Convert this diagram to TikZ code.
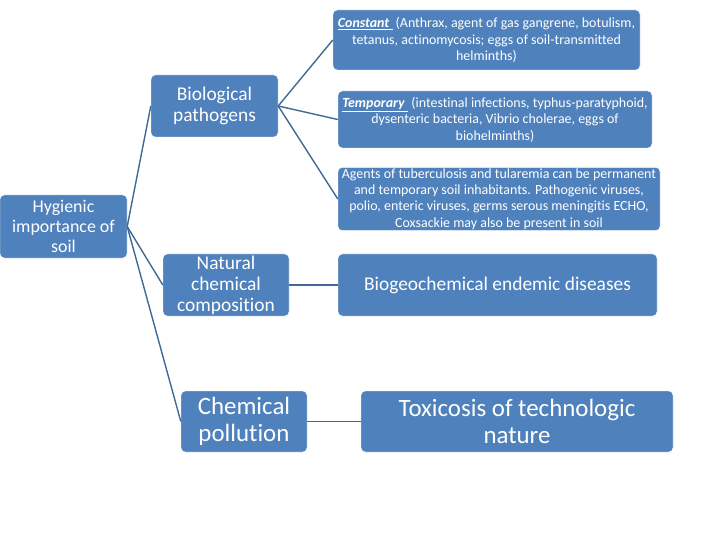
\documentclass[tikz,border=0pt]{standalone}
\usepackage{fontspec}
\setmainfont{Carlito}[Ligatures={NoCommon}]
\usepackage{tikz}
\definecolor{boxblue}{HTML}{4F81BD}
\definecolor{lineblue}{HTML}{3F6A98}

\begin{document}
\begin{tikzpicture}[x=1bp,y=-1bp,box/.style={fill=boxblue,draw=white,thin,rounded corners=1.5mm,align=center,text=white,inner sep=1bp},sm/.style={font=\fontsize{14}{16.5}\selectfont},md/.style={font=\fontsize{19.5}{21}\selectfont},lg/.style={font=\fontsize{25}{27}\selectfont},link/.style={draw=lineblue,line width=1.4bp}]
\useasboundingbox (0,0) rectangle (720,540);
\node[box,font=\fontsize{18}{20}\selectfont,minimum width=127bp,minimum height=63bp] (soil) at (63.5,226.5) {Hygienic\\importance of\\soil};
\node[box,md,minimum width=127bp,minimum height=62bp] (bio) at (214.5,106) {Biological\\pathogens};
\node[box,md,minimum width=126bp,minimum height=62bp] (natural) at (226,285) {Natural\\chemical\\composition};
\node[box,lg,minimum width=126bp,minimum height=61bp] (pollution) at (244,421.5) {Chemical\\pollution};
\node[box,sm,minimum width=307bp,minimum height=60bp] (constant) at (486.5,40) {\underline{\textbf{\textit{Constant}}\ }\ (Anthrax, agent of gas gangrene, botulism,\\tetanus, actinomycosis; eggs of soil-transmitted\\helminths)};
\node[box,sm,minimum width=314bp,minimum height=57bp] (temporary) at (495,119.5) {\underline{\textbf{\textit{Temporary}}\ }\ (intestinal infections, typhus-paratyphoid,\\dysenteric bacteria, Vibrio cholerae, eggs of\\biohelminths)};
\node[box,sm,minimum width=322bp,minimum height=62bp] (agents) at (499,199) {Agents of tuberculosis and tularemia can be permanent\\and temporary soil inhabitants. Pathogenic viruses,\\polio, enteric viruses, germs serous meningitis ECHO,\\Coxsackie may also be present in soil};
\node[box,md,minimum width=319bp,minimum height=62bp] (biogeo) at (497.5,285) {Biogeochemical endemic diseases};
\node[box,lg,minimum width=312bp,minimum height=61bp] (toxicosis) at (517,421.5) {Toxicosis of technologic\\nature};
% links
\draw[link] (soil.east)--(bio.west);
\draw[link] (soil.east)--(natural.west);
\draw[link] (soil.east)--(pollution.west);
\draw[link] (bio.east)--(constant.west);
\draw[link] (bio.east)--(temporary.west);
\draw[link] (bio.east)--(agents.west);
\draw[link] (natural)--(biogeo);
\draw[link] (pollution)--(toxicosis);
\end{tikzpicture}
\end{document}
